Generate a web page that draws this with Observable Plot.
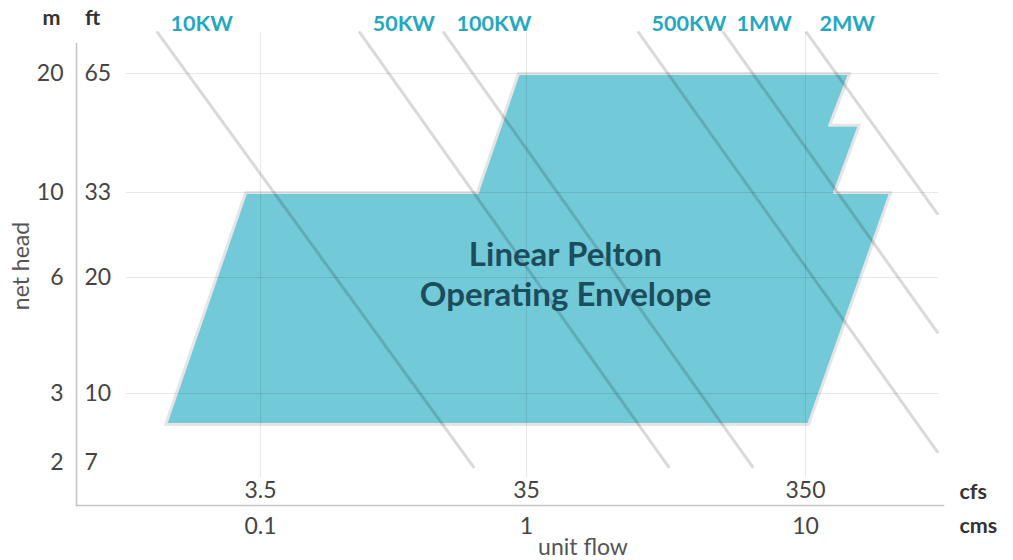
<!DOCTYPE html>
<html>
<head>
<meta charset="utf-8">
<script src="https://cdn.jsdelivr.net/npm/d3@7"></script>
<script src="https://cdn.jsdelivr.net/npm/@observablehq/plot@0.6"></script>
<style>
  html, body { margin: 0; padding: 0; background: #fff; }
  svg { display: block; }
</style>
</head>
<body>
<div id="chart"></div>
<script>
// Axis ticks
const flowCms = [0.1, 1, 10];
const flowCfs = ["3.5", "35", "350"];
const headM = [20, 10, 6, 3, 2];
const headFt = ["65", "33", "20", "10", "7"];
const gridHeads = [20, 10, 6, 3];

// Constant-power lines (endpoints in cms / m)
const powerLabels = ["10KW", "50KW", "100KW", "500KW", "1MW", "2MW"];
const powerFlowTop = [0.041, 0.236, 0.488, 2.52, 5.08, 10.08];
const powerHeadTop = [25.4, 25.4, 25.4, 25.4, 25.4, 25.4];
const powerFlowEnd = [0.632, 3.23, 6.46, 29.7, 29.7, 29.7];
const powerHeadEnd = [1.95, 1.95, 1.95, 2.13, 4.32, 8.81];

// Operating envelope polygon (cms / m)
const envFlow = [0.044, 10.25, 20.2, 12.7, 15.6, 12.2, 14.4, 0.933, 0.654, 0.088];
const envHead = [2.5, 2.5, 10, 10, 14.8, 14.8, 20, 20, 10, 10];

const titleText = "Linear Pelton\nOperating Envelope";
const titleFlow = 1.38;
const titleHead = 6.17;

const power = powerLabels.map((label, i) => ({
  label, q1: powerFlowTop[i], h1: powerHeadTop[i], q2: powerFlowEnd[i], h2: powerHeadEnd[i]
}));
const envelope = envFlow.map((q, i) => ({q, h: envHead[i]}));
const cfsTicks = flowCms.map((q, i) => ({q, t: flowCfs[i]}));
const ftTicks = headM.map((h, i) => ({h, t: headFt[i]}));

const grid = "rgba(0,0,0,0.09)";
const axisColor = "#c4c4c4";
const tickColor = "#444";
const labelSize = 23;
const boldSize = 21.5;

const chart = Plot.plot({
  width: 1013,
  height: 560,
  marginLeft: 76,
  marginRight: 70,
  marginTop: 32,
  marginBottom: 55,
  style: {fontFamily: "Lato, 'Open Sans', sans-serif", fontSize: "23px", background: "#fff"},
  x: {type: "log", domain: flowCms, range: [260, 526, 805], axis: null},
  y: {type: "log", domain: [2, 3, 6, 10, 20], range: [462, 393, 277, 192, 73], axis: null},
  marks: [
    // envelope
    Plot.line(envelope, {x: "q", y: "h", curve: "linear-closed", fill: "#72c9d8", stroke: "#e5e5e5", strokeWidth: 3}),
    // gridlines
    Plot.ruleX(flowCms, {stroke: grid, strokeWidth: 1, insetBottom: 28}),
    Plot.ruleY(gridHeads, {stroke: grid, strokeWidth: 1, insetLeft: 50, insetRight: 5}),
    // power lines
    Plot.link(power, {x1: "q1", y1: "h1", x2: "q2", y2: "h2", stroke: "rgba(0,0,0,0.15)", strokeWidth: 3, strokeLinecap: "round"}),
    Plot.text(power, {x: "q1", y: "h1", text: "label", textAnchor: "start", lineAnchor: "middle", dx: 13, dy: -8, fill: "#23a8c1", fontWeight: "bold", fontSize: boldSize}),
    // axis lines
    Plot.frame({anchor: "left", insetTop: 11, stroke: axisColor, strokeWidth: 1.5}),
    Plot.frame({anchor: "bottom", stroke: axisColor, strokeWidth: 1.5}),
    // x tick labels
    Plot.text(cfsTicks, {x: "q", text: "t", frameAnchor: "bottom", textAnchor: "middle", lineAnchor: "middle", dy: -15, fill: tickColor, fontSize: labelSize}),
    Plot.text(flowCms, {x: d => d, text: d => String(d), frameAnchor: "bottom", textAnchor: "middle", lineAnchor: "middle", dy: 21, fill: tickColor, fontSize: labelSize}),
    Plot.text(["cfs"], {frameAnchor: "bottom-right", dx: 16, dy: -13, textAnchor: "start", lineAnchor: "middle", fontWeight: "bold", fill: "#333", fontSize: boldSize}),
    Plot.text(["cms"], {frameAnchor: "bottom-right", dx: 16, dy: 21, textAnchor: "start", lineAnchor: "middle", fontWeight: "bold", fill: "#333", fontSize: boldSize}),
    Plot.text(["unit flow"], {frameAnchor: "bottom", dx: 73, dy: 42, textAnchor: "middle", lineAnchor: "middle", fill: "#555", fontSize: labelSize}),
    // y tick labels
    Plot.text(headM, {y: d => d, text: d => String(d), frameAnchor: "left", dx: -13, textAnchor: "end", lineAnchor: "middle", fill: tickColor, fontSize: labelSize}),
    Plot.text(ftTicks, {y: "h", text: "t", frameAnchor: "left", dx: 8, textAnchor: "start", lineAnchor: "middle", fill: tickColor, fontSize: labelSize}),
    Plot.text(["m"], {frameAnchor: "top-left", dx: -25, dy: -14, textAnchor: "middle", lineAnchor: "middle", fontWeight: "bold", fill: "#333", fontSize: boldSize}),
    Plot.text(["ft"], {frameAnchor: "top-left", dx: 16, dy: -14, textAnchor: "middle", lineAnchor: "middle", fontWeight: "bold", fill: "#333", fontSize: boldSize}),
    Plot.text(["net head"], {frameAnchor: "left", dx: -55, dy: -3, rotate: -90, textAnchor: "middle", lineAnchor: "middle", fill: "#555", fontSize: labelSize}),
    // title
    Plot.text([titleText], {x: () => titleFlow, y: () => titleHead, text: d => d, fontWeight: "bold", fontSize: 33, lineHeight: 1.21, fill: "#1b4d5c"})
  ]
});
document.getElementById("chart").append(chart);
</script>
</body>
</html>
